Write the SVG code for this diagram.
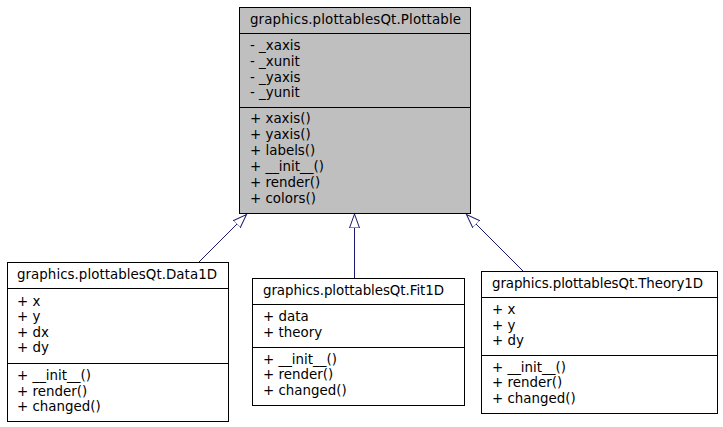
<svg xmlns="http://www.w3.org/2000/svg" width="723" height="427" viewBox="0 0 723 427">
<defs>
<style>
.box{fill:#ffffff;stroke:#000000;stroke-width:1}
.base{fill:#bfbfbf;stroke:#000000;stroke-width:1}
.sep{stroke:#000000;stroke-width:1;fill:none}
text{font-family:"DejaVu Sans","Liberation Sans",sans-serif;font-size:13.4px;fill:#000000}
.edge{stroke:#191970;stroke-width:1;fill:none}
</style>
<marker id="inh" markerUnits="userSpaceOnUse" markerWidth="16" markerHeight="12" viewBox="0 -6 16 12" refX="14" refY="0" orient="auto">
<path d="M0,-5 L14,0 L0,5 Z" fill="#ffffff" stroke="#191970" stroke-width="1"/>
</marker>
</defs>
<rect width="723" height="427" fill="#ffffff"/>
<g id="edges">
<line class="edge" x1="199" y1="262" x2="246.5" y2="214.5" marker-end="url(#inh)"/>
<line class="edge" x1="354.5" y1="278" x2="354.5" y2="214" marker-end="url(#inh)"/>
<line class="edge" x1="523" y1="271" x2="466.5" y2="214.5" marker-end="url(#inh)"/>
</g>
<g id="Plottable">
<rect class="base" x="239.5" y="7.5" width="231" height="206"/>
<line class="sep" x1="239.5" y1="33.5" x2="470.5" y2="33.5"/>
<line class="sep" x1="239.5" y1="107.5" x2="470.5" y2="107.5"/>
<text x="250" y="24" textLength="211" lengthAdjust="spacing">graphics.plottablesQt.Plottable</text>
<text x="250" y="50">- _xaxis</text>
<text x="250" y="66">- _xunit</text>
<text x="250" y="81.5">- _yaxis</text>
<text x="250" y="97">- _yunit</text>
<text x="250" y="123">+ xaxis()</text>
<text x="250" y="139">+ yaxis()</text>
<text x="250" y="155">+ labels()</text>
<text x="250" y="171">+ __init__()</text>
<text x="250" y="187">+ render()</text>
<text x="250" y="203">+ colors()</text>
</g>
<g id="Data1D">
<rect class="box" x="7.5" y="262.5" width="221" height="159"/>
<line class="sep" x1="7.5" y1="288.5" x2="228.5" y2="288.5"/>
<line class="sep" x1="7.5" y1="363.5" x2="228.5" y2="363.5"/>
<text x="17" y="279" textLength="200" lengthAdjust="spacing">graphics.plottablesQt.Data1D</text>
<text x="17" y="305.5">+ x</text>
<text x="17" y="321">+ y</text>
<text x="17" y="336.5">+ dx</text>
<text x="17" y="352">+ dy</text>
<text x="17" y="379.5">+ __init__()</text>
<text x="17" y="395.5">+ render()</text>
<text x="17" y="411">+ changed()</text>
</g>
<g id="Fit1D">
<rect class="box" x="252.5" y="278.5" width="212" height="127"/>
<line class="sep" x1="252.5" y1="304.5" x2="464.5" y2="304.5"/>
<line class="sep" x1="252.5" y1="347.5" x2="464.5" y2="347.5"/>
<text x="263" y="295" textLength="181" lengthAdjust="spacing">graphics.plottablesQt.Fit1D</text>
<text x="263" y="321">+ data</text>
<text x="263" y="337">+ theory</text>
<text x="263" y="363.5">+ __init__()</text>
<text x="263" y="379">+ render()</text>
<text x="263" y="395">+ changed()</text>
</g>
<g id="Theory1D">
<rect class="box" x="481.5" y="271.5" width="236" height="142"/>
<line class="sep" x1="481.5" y1="297.5" x2="717.5" y2="297.5"/>
<line class="sep" x1="481.5" y1="355.5" x2="717.5" y2="355.5"/>
<text x="492" y="288" textLength="211" lengthAdjust="spacing">graphics.plottablesQt.Theory1D</text>
<text x="492" y="314">+ x</text>
<text x="492" y="329.5">+ y</text>
<text x="492" y="345">+ dy</text>
<text x="492" y="371.5">+ __init__()</text>
<text x="492" y="387">+ render()</text>
<text x="492" y="403">+ changed()</text>
</g>
</svg>
